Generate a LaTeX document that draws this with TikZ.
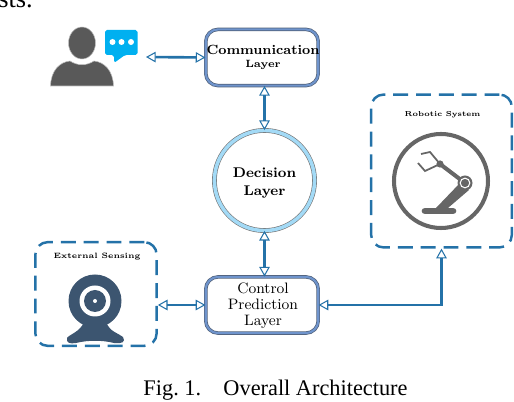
\documentclass[tikz,border=0pt]{standalone}
\usepackage{fontspec}
\usepackage{xcolor}
\newfontfamily\capfont{Liberation Serif}
\usetikzlibrary{arrows.meta}
\usetikzlibrary{positioning}
\definecolor{linkblue}{HTML}{2472A8}
\definecolor{iconblue}{HTML}{3C5570}
\definecolor{icongray}{HTML}{595959}
\definecolor{robotgray}{HTML}{666666}
\definecolor{bubbleblue}{HTML}{00B0F0}
\definecolor{boxblue}{HTML}{6F94CC}
\definecolor{boxedge}{HTML}{4F5F78}
\definecolor{ringblue}{HTML}{A3DAF6}
\tikzset{
	layerbox/.style={draw=boxedge, double=boxblue, double distance=1.2pt, line width=0.4pt, rounded corners=7pt, align=center, inner sep=0pt, minimum width=64pt, minimum height=32pt},
	groupbox/.style={draw=linkblue, line width=1.4pt, dash pattern=on 8.5pt off 4.5pt, rounded corners=7pt, inner sep=0pt},
	link/.style={draw=linkblue, line width=1.5pt, {Triangle[open,length=5.5pt,width=6pt,line width=0.6pt]}-{Triangle[open,length=5.5pt,width=6pt,line width=0.6pt]}},
	smalllabel/.style={font=\bfseries\fontsize{4.4}{6}\selectfont, inner sep=0pt}
}
\begin{document}
\begin{tikzpicture}[x=0.2mm,y=-0.2mm]
	\useasboundingbox (0,0) rectangle (514,402);

	% Cut-off line of text above the figure
	\begin{scope}
		\clip (0,0) rectangle (514,402);
		\node[anchor=base west, inner sep=0pt, font=\capfont\fontsize{15}{17}\selectfont] (prevtext) at (-2,8) {sts.};
	\end{scope}

	% Layers
	\node[layerbox] (comm) at (262,57.5) {};
	\node[font=\bfseries\fontsize{7.6}{9}\selectfont, inner sep=0pt] (commtop) at (263,50) {Communication};
	\node[font=\bfseries\fontsize{6}{7}\selectfont, inner sep=0pt] (commlow) at (263,65) {Layer};
	\node[circle, draw=black!55, double=ringblue, double distance=2pt, line width=0.35pt, minimum size=57pt, inner sep=0pt] (decision) at (264.5,180.5) {};
	\node[align=center, inner sep=0pt, font=\bfseries\fontsize{8}{10.2}\selectfont] (decisiontext) at (264.5,183) {Decision\\Layer};
	\node[layerbox] (control) at (262,305) {};
	\node[align=center, inner sep=0pt, font=\fontsize{8.6}{9.2}\selectfont] (controltext) at (263,306) {Control\\Prediction\\Layer};

	% Dashed groups
	\node[groupbox, minimum width=69pt, minimum height=59pt] (sensing) at (96,294) {};
	\node[smalllabel] (sensinglabel) at (97,257) {External Sensing};
	\node[groupbox, minimum width=80pt, minimum height=87pt] (robotic) at (441.5,171) {};
	\node[smalllabel, font=\bfseries\fontsize{4.1}{6}\selectfont] (roboticlabel) at (442.5,115) {Robotic System};

	% User icon
	\fill[icongray, draw=black!25, line width=0.3pt] (82,43) ellipse (13.5 and 16);
	\fill[icongray, draw=black!25, line width=0.3pt] (50.5,86) .. controls (51,70) and (60,62) .. (70,61) .. controls (78,66) and (86,66) .. (94,61) .. controls (104,62) and (113,70) .. (113.5,86) -- cycle;
	\fill[bubbleblue, rounded corners=1pt] (105,30) -- (137.5,30) -- (137.5,55) -- (125,55) -- (114,63) -- (114,55) -- (105,55) -- cycle;
	\foreach \dotx in {112.5,121.5,131}
		\fill[white] (\dotx,42) circle (3);
	\coordinate (userport) at (146,57);

	% Webcam icon
	\fill[iconblue] (95,301) circle (26.5);
	\fill[white] (95,301) circle (15.5);
	\fill[iconblue] (95,301) circle (11);
	\fill[white] (95,301) circle (2);
	\fill[iconblue] (84,322) .. controls (80,332) and (70,334) .. (67,338) .. controls (66,343) and (70,344) .. (76,343) .. controls (88,340) and (102,340) .. (114,343) .. controls (122,344) and (126,342) .. (123,337) .. controls (118,333) and (110,332) .. (106,322) -- cycle;

	% Robot icon
	\draw[robotgray, line width=2.3pt] (441,181) circle (47);
	\draw[robotgray, line width=3.8pt, line cap=round] (425,211) -- (453,211);
	\fill[robotgray] (436,208) -- (460,183) -- (469,190) -- (448,208) -- cycle;
	\draw[robotgray, line width=2.3pt] (465,183) -- (440,164);
	\fill[robotgray] (440,164) circle (3.6);
	\draw[robotgray, line width=1pt] (440,164) -- (430,152) -- (421,154);
	\draw[robotgray, line width=1pt] (440,164) -- (425,171) -- (418,163);
	\fill[robotgray] (465,183) circle (7.5);
	\draw[white, line width=0.6pt] (465,183) circle (4.8);

	% Links between layers
	\draw[link] (userport) -- (comm.west);
	\draw[link] (comm.south -| decision) -- (decision.north);
	\draw[link] (decision.south) -- (control.north -| decision);
	\draw[link] (sensing.east |- control) -- (control.west);
	\draw[link] (control.east) -| (robotic.south);

	% Caption
	\node[font=\capfont\fontsize{12.7}{15}\selectfont, inner sep=0pt] (caption) at (275.5,390) {Fig.~1.\hspace{1em}Overall Architecture};
\end{tikzpicture}
\end{document}
